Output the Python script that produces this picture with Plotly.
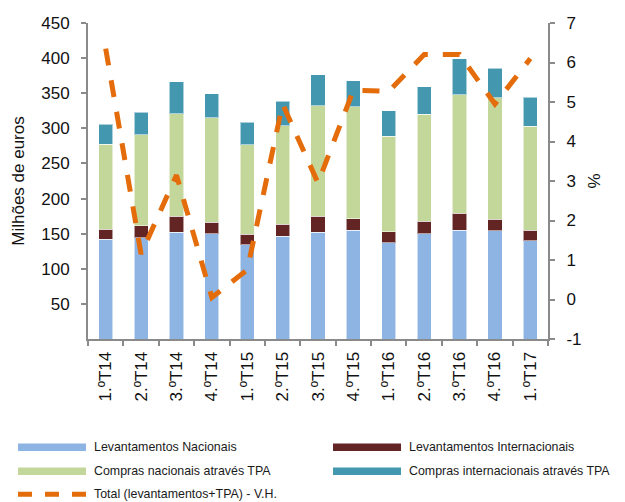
import plotly.graph_objects as go

categories = ["1.ºT14", "2.ºT14", "3.ºT14", "4.ºT14", "1.ºT15", "2.ºT15", "3.ºT15",
              "4.ºT15", "1.ºT16", "2.ºT16", "3.ºT16", "4.ºT16", "1.ºT17"]
lev_nacionais = [142, 144.5, 152, 150, 134.5, 146, 152, 155, 137, 150, 155, 154, 140]
lev_internacionais = [14, 16.5, 23, 16, 15, 17.5, 23, 16.5, 16, 17.5, 24, 16.5, 15]
compras_nacionais = [121, 130, 146, 149, 127, 140.5, 157, 159, 136, 152.5, 169, 173, 148]
compras_internacionais = [29, 32, 45, 34, 32, 34.5, 44, 37, 36, 39.5, 51, 42, 41]
total_vh = [6.35, 1.15, 3.15, 0.05, 0.75, 4.95, 2.95, 5.3, 5.27, 6.2, 6.2, 4.95, 6.1]
left_ticks = [50, 100, 150, 200, 250, 300, 350, 400, 450]
right_ticks = [-1, 0, 1, 2, 3, 4, 5, 6, 7]
right_tick_labels = ["-1", "0", "1", "2", "3", "4", "5", "6", "7"]

names = ["Levantamentos Nacionais", "Levantamentos Internacionais",
         "Compras nacionais através TPA", "Compras internacionais através TPA",
         "Total (levantamentos+TPA) - V.H."]
colors = ["#8EB4E3", "#632523", "#C4D79B", "#4397AF", "#E46C0A"]

OFF = 8  # page body margin
W, H = 625 - OFF, 502 - OFF
L, R, T, B = 88 - OFF, 548 - OFF, 22.7 - OFF, 338.7 - OFF
FONT = "Liberation Sans, Arial, sans-serif"

fig = go.Figure()
for vals, name, col in zip([lev_nacionais, lev_internacionais, compras_nacionais, compras_internacionais],
                           names[:4], colors[:4]):
    fig.add_trace(go.Bar(x=categories, y=vals, name=name, marker_color=col,
                         marker_line=dict(color="rgba(255,255,255,0.55)", width=1),
                         showlegend=False))

fig.add_trace(go.Scatter(x=categories, y=total_vh, name=names[4], yaxis="y2", mode="lines",
                         line=dict(color=colors[4], width=5, dash="17px,15px"),
                         showlegend=False))

def px(x):
    return (x - OFF - L) / (R - L)

def py(y):
    return (B - (y - OFF)) / (B - T)

shapes = []
annotations = []
legend_items = [
    (0, 18, 86, 447),
    (1, 333, 401, 447),
    (2, 18, 86, 471),
    (3, 333, 401, 471),
]
LEG_FONT = dict(size=12.4, color="#1a1a1a", family=FONT)
for idx, x0, x1, y in legend_items:
    shapes.append(dict(type="rect", xref="paper", yref="paper",
                       x0=px(x0), x1=px(x1), y0=py(y + 3.8), y1=py(y - 3.8),
                       fillcolor=colors[idx], line=dict(width=0)))
    annotations.append(dict(text=names[idx], xref="paper", yref="paper", x=px(x1 + 6), y=py(y),
                            xanchor="left", yanchor="middle", showarrow=False, font=LEG_FONT))
shapes.append(dict(type="line", xref="paper", yref="paper", x0=px(18), x1=px(86),
                   y0=py(494), y1=py(494),
                   line=dict(color=colors[4], width=5, dash="14px,13px")))
annotations.append(dict(text=names[4], xref="paper", yref="paper", x=px(92), y=py(494),
                        xanchor="left", yanchor="middle", showarrow=False, font=LEG_FONT))

axis_color = "#8a8a8a"
fig.update_layout(
    width=W, height=H, barmode="stack", bargap=0.6,
    margin=dict(l=L, r=W - R, t=T, b=H - B, autoexpand=False),
    paper_bgcolor="white", plot_bgcolor="white",
    font=dict(family=FONT, size=17, color="#111111"),
    xaxis=dict(type="category", showline=True, linecolor=axis_color, linewidth=2,
               ticks="outside", tickson="boundaries", ticklen=5, tickcolor=axis_color,
               tickwidth=1.5, tickangle=-90, tickfont=dict(size=17), showgrid=False,
               ticklabelstandoff=4),
    yaxis=dict(range=[0, 450], tickvals=left_ticks,
               showline=True, linecolor=axis_color, linewidth=2, ticks="outside",
               ticklen=5, tickcolor=axis_color, tickwidth=1.5, showgrid=False,
               zeroline=False, tickfont=dict(size=17), ticklabelstandoff=8,
               title=dict(text="Milhões de euros", font=dict(size=17), standoff=12)),
    yaxis2=dict(range=[-1, 7], tickvals=right_ticks, ticktext=right_tick_labels,
                overlaying="y", side="right", showline=True,
                linecolor=axis_color, linewidth=2, ticks="outside", ticklen=5,
                tickcolor=axis_color, tickwidth=1.5, showgrid=False, zeroline=False,
                tickfont=dict(size=17), ticklabelstandoff=8,
                title=dict(text="%", font=dict(size=17), standoff=8)),
    shapes=shapes, annotations=annotations,
)

fig.write_html("out.html")
